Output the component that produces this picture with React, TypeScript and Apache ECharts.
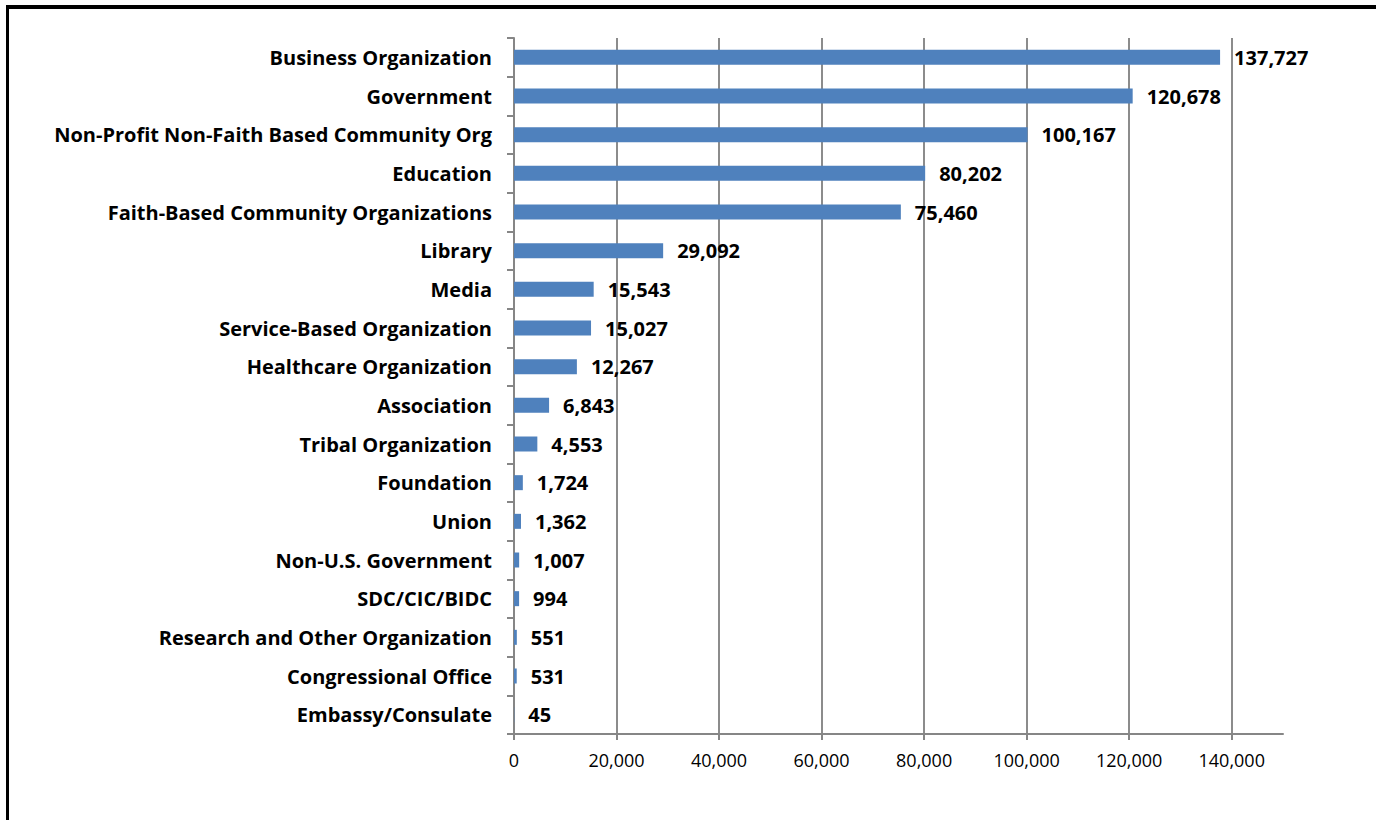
import React, { useEffect, useRef } from "react";
import * as echarts from "echarts";

const categories = [
  "Business Organization",
  "Government",
  "Non-Profit Non-Faith Based Community Org",
  "Education",
  "Faith-Based Community Organizations",
  "Library",
  "Media",
  "Service-Based Organization",
  "Healthcare Organization",
  "Association",
  "Tribal Organization",
  "Foundation",
  "Union",
  "Non-U.S. Government",
  "SDC/CIC/BIDC",
  "Research and Other Organization",
  "Congressional Office",
  "Embassy/Consulate",
];
const values = [
  137727, 120678, 100167, 80202, 75460, 29092, 15543, 15027, 12267, 6843, 4553,
  1724, 1362, 1007, 994, 551, 531, 45,
];
const xTicks = [0, 20000, 40000, 60000, 80000, 100000, 120000, 140000];

export default function App() {
  const ref = useRef<HTMLDivElement>(null);
  useEffect(() => {
    if (!ref.current) return;
    const chart = echarts.init(ref.current, null, { renderer: "svg" });
    const font = "'Open Sans', 'Liberation Sans', sans-serif";
    chart.setOption({
      animation: false,
      backgroundColor: "#ffffff",
      textStyle: { fontFamily: font },
      grid: { left: 514, right: 93, top: 38, bottom: 86, containLabel: false },
      xAxis: {
        type: "value",
        min: 0,
        max: 150000,
        interval: 20000,
        axisLine: { show: true, lineStyle: { color: "#868686", width: 2 } },
        axisTick: {
          show: true,
          length: 6,
          customValues: xTicks,
          lineStyle: { color: "#868686", width: 2 },
        },
        axisLabel: {
          customValues: xTicks,
          color: "#000",
          fontSize: 18,
          fontFamily: font,
          margin: 17,
          formatter: (v: number) => v.toLocaleString("en-US"),
        },
        splitLine: { show: true, lineStyle: { color: "#8c8c8c", width: 2 } },
      },
      yAxis: {
        type: "category",
        inverse: true,
        data: categories,
        axisLine: { show: true, lineStyle: { color: "#868686", width: 2 } },
        axisTick: {
          show: true,
          length: 7,
          alignWithLabel: false,
          lineStyle: { color: "#868686", width: 2 },
        },
        axisLabel: {
          color: "#000",
          fontSize: 20,
          fontWeight: "bold",
          fontFamily: font,
          margin: 22,
        },
      },
      series: [
        {
          type: "bar",
          data: values,
          barWidth: 15,
          itemStyle: { color: "#4F81BD" },
          label: {
            show: true,
            position: "right",
            distance: 14,
            color: "#000",
            fontSize: 20,
            fontWeight: "bold",
            fontFamily: font,
            formatter: (p: any) => Number(p.value).toLocaleString("en-US"),
          },
        },
      ],
      graphic: [
        { type: "rect", shape: { x: 6, y: 5, width: 1370, height: 4 }, style: { fill: "#000" } },
        { type: "rect", shape: { x: 6, y: 5, width: 3, height: 815 }, style: { fill: "#000" } },
      ],
    });
    return () => chart.dispose();
  }, []);
  return (
    <div
      ref={ref}
      style={{ position: "fixed", left: 0, top: 0, width: 1376, height: 820 }}
    />
  );
}
